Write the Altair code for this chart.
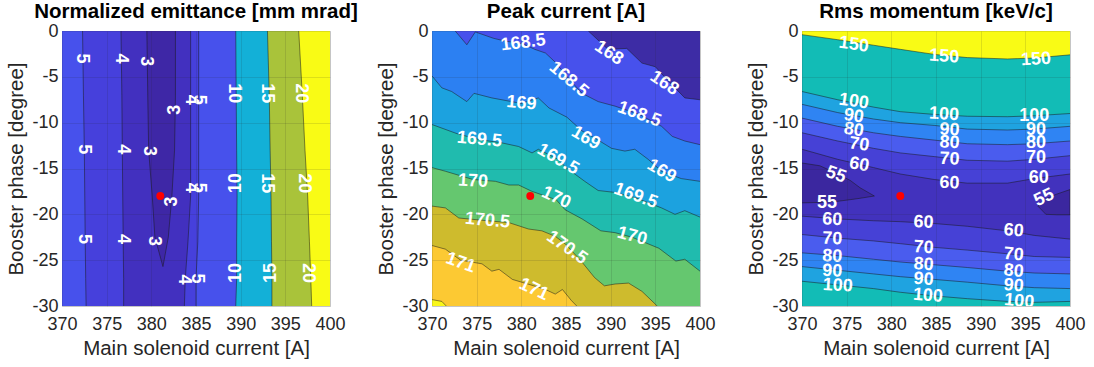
import altair as alt
import pandas as pd

# ---------------- axes ----------------
X_MIN, X_MAX = 370, 400
Y_MIN, Y_MAX = -30, 0
X_TICKS = [370, 375, 380, 385, 390, 395, 400]
Y_TICKS = [0, -5, -10, -15, -20, -25, -30]
OPT_X, OPT_Y = 381, -18
TITLES = ["Normalized emittance [mm mrad]", "Peak current [A]", "Rms momentum [keV/c]"]
X_TITLE = "Main solenoid current [A]"
Y_TITLE = "Booster phase [degree]"

# ---------------- panel 1: emittance (contours given as x at phase samples) ----------------
P1_Y = [0, -7, -13, -18, -23, -27, -30]
E5L = [372.3, 372.4, 372.5, 372.55, 372.6, 372.65, 372.7]
E4L = [376.6, 376.7, 376.75, 376.8, 376.85, 376.9, 376.9]
E4R = [384.4, 384.4, 384.4, 384.4, 384.1, 383.8, 383.7]
E5R = [385.3, 385.3, 385.3, 385.3, 385.2, 385.0, 385.0]
E10 = [389.45, 389.5, 389.55, 389.6, 389.55, 389.55, 389.45]
E15 = [393.0, 393.2, 393.3, 393.4, 393.45, 393.5, 393.5]
E20 = [396.5, 396.9, 397.2, 397.5, 397.7, 397.85, 397.95]
E3_Y = [0, -7, -13, -18, -22.5, -25.7]
E3L = [379.5, 379.6, 379.7, 380.1, 380.4, 381.3]
E3R = [382.7, 382.7, 382.6, 382.3, 381.9, 381.3]
P1_COL = {"lt3": "#3E27A6", "3-4": "#4230BF", "4-5": "#4640DC", "5-10": "#4751EC",
          "10-15": "#13B0D7", "15-20": "#A9C33A", "gt20": "#F9FB15"}
L1_T = ["5", "4", "3", "4", "5", "10", "15", "20", "3", "5", "4", "3", "4", "5", "10", "15", "20",
        "3", "5", "4", "3", "4", "5", "10", "15", "20"]
L1_X = [372.2, 376.6, 379.4, 384.4, 385.3, 389.3, 393.0, 396.8, 382.7, 372.5, 376.8, 379.7, 384.4,
        385.3, 389.5, 393.0, 397.1, 382.3, 372.5, 376.8, 380.3, 383.7, 385.1, 389.5, 393.4, 397.5]
L1_Y = [-3.0, -3.0, -3.3, -7.5, -7.5, -6.8, -6.8, -6.8, -8.6, -12.9, -12.9, -13.1, -17.1, -17.1,
        -16.6, -16.6, -16.6, -18.6, -22.7, -22.7, -22.9, -27.1, -27.0, -26.4, -26.4, -26.4]
L1_A = [90, 90, 90, 90, 90, 90, 90, 90, 270, 90, 90, 90, 90, 90, 270, 90, 90, 270, 90, 90, 90, 90,
        90, 270, 270, 90]

# ---------------- panel 2: peak current (contours as phase at current samples) ----------------
C168_X = [387.5, 389.7, 391.8, 393.5, 395.0, 396.5, 398.3, 400.0]
C168_Y = [0.0, -2.0, -1.9, -3.5, -3.9, -5.5, -7.3, -7.5]
C1685_X = [372.6, 373.9, 374.85, 376.9, 378.2, 380.2, 381.5, 382.7, 383.8, 385.3, 386.8, 388.6,
           390.5, 393.2, 395.7, 396.9, 398.3, 400.0]
C1685_Y = [0.0, -1.5, -0.1, -0.8, -1.1, -1.4, -2.0, -2.4, -3.4, -5.2, -6.8, -7.7, -8.2, -9.1,
           -10.4, -11.5, -12.0, -12.4]
C169_X = [370.0, 371.1, 372.2, 373.9, 374.7, 376.7, 380.0, 381.9, 383.1, 385.1, 386.8, 388.6,
          390.1, 391.6, 392.7, 394.2, 395.7, 397.9, 400.0]
C169_Y = [-4.9, -6.2, -6.6, -7.7, -6.8, -7.3, -7.9, -7.3, -8.4, -9.4, -10.9, -11.9, -12.8, -13.1,
          -12.9, -14.0, -15.3, -16.1, -16.4]
C1695_X = [370.0, 372.8, 375.3, 377.8, 379.7, 381.2, 381.9, 384.1, 385.0, 387.1, 388.6, 390.4,
           392.8, 395.7, 397.2, 398.3, 400.0]
C1695_Y = [-10.2, -11.2, -11.85, -12.2, -12.6, -13.3, -12.9, -14.0, -14.9, -16.4, -17.4, -17.6,
           -18.2, -19.3, -20.0, -19.6, -20.3]
C170_X = [370.0, 371.5, 374.6, 377.1, 378.6, 379.7, 381.2, 383.9, 384.9, 386.8, 388.9, 390.5,
          392.4, 395.4, 397.3, 398.3, 400.0]
C170_Y = [-14.9, -15.3, -16.2, -16.4, -16.8, -16.8, -17.5, -18.4, -19.5, -20.5, -21.8, -22.0,
          -22.5, -23.7, -25.1, -24.9, -26.2]
C1705_X = [370.0, 371.5, 373.0, 376.2, 378.6, 380.8, 382.3, 383.8, 384.9, 386.7, 388.2, 389.3,
           390.5, 392.0, 393.5, 395.0, 395.2]
C1705_Y = [-19.1, -19.3, -20.4, -20.7, -20.9, -21.6, -21.8, -22.4, -23.2, -25.1, -26.9, -27.8,
           -27.6, -27.5, -28.4, -29.8, -30.0]
C171_X = [370.0, 371.5, 373.2, 375.6, 376.7, 377.5, 379.0, 381.4, 382.7, 383.8, 384.6, 385.6, 386.2]
C171_Y = [-23.4, -23.8, -25.0, -25.4, -26.2, -26.0, -27.1, -27.8, -28.2, -28.7, -28.2, -29.4, -30.0]
C1715_X = [370.0, 371.1, 371.6]
C1715_Y = [-29.3, -29.5, -30.0]
P2_COL = ["#3D2CA5", "#4751EC", "#2C80F2", "#1CA2DF", "#20BBAE", "#65C76F", "#CEBB2D", "#FCC933",
          "#F9F71A"]
L2_T = ["168.5", "168", "168", "168.5", "168.5", "169", "169.5", "169", "169.5", "169", "169.5",
        "170", "170", "170.5", "170", "170.5", "171", "171"]
L2_X = [380.2, 389.8, 396.0, 385.3, 393.2, 380.0, 375.3, 387.2, 384.1, 395.7, 392.8, 374.6, 383.9,
        376.2, 392.4, 385.1, 373.2, 381.4]
L2_Y = [-1.3, -2.4, -5.7, -5.3, -9.1, -7.9, -11.85, -11.7, -14.0, -15.3, -18.0, -16.4, -18.2,
        -20.7, -22.4, -23.65, -25.3, -28.2]
L2_A = [353, 33, 33, 40, 20, 5, 5, 30, 30, 30, 20, 3, 25, 5, 15, 35, 20, 25]

# ---------------- panel 3: rms momentum (contours as phase at current samples) ----------------
P3_X = [370, 374, 378, 381, 384.8, 388.5, 393, 396, 400]
M150 = [-0.4, -0.95, -1.55, -2.0, -2.55, -2.9, -3.05, -2.95, -2.6]
M100U = [-6.6, -7.5, -8.3, -8.8, -9.1, -9.3, -9.35, -9.25, -9.0]
M90U = [-8.0, -8.9, -9.6, -10.0, -10.3, -10.7, -10.8, -10.7, -10.4]
M80U = [-9.5, -10.4, -11.1, -11.5, -11.9, -12.3, -12.4, -12.3, -12.0]
M70U = [-11.1, -12.0, -12.8, -13.3, -13.7, -14.1, -14.2, -14.0, -13.6]
M60U = [-12.9, -14.0, -14.9, -15.6, -16.2, -16.6, -16.6, -16.1, -15.6]
M60L = [-20.2, -20.5, -20.7, -20.8, -21.0, -21.3, -21.8, -22.3, -22.7]
M70L = [-22.2, -22.6, -22.9, -23.2, -23.6, -23.9, -24.3, -24.6, -24.7]
M80L = [-24.2, -24.5, -24.9, -25.2, -25.5, -25.8, -26.2, -26.4, -26.5]
M90L = [-25.7, -26.1, -26.5, -26.8, -27.1, -27.4, -27.8, -28.0, -28.1]
M100L = [-27.3, -27.7, -28.1, -28.5, -28.9, -29.2, -29.5, -29.6, -29.5]
M55A_X = [370, 372, 373.8, 375.4, 376.5, 378.1]
M55A_U = [-14.4, -14.7, -15.5, -16.3, -17.1, -18.0]
M55A_L = [-18.75, -18.7, -18.6, -18.4, -18.25, -18.0]
M55B_X = [396.4, 397.3, 398.5, 400]
M55B_U = [-19.1, -18.3, -17.8, -17.3]
M55B_L = [-19.1, -20.0, -20.05, -20.05]
P3_COL = {"lt55": "#3B279F", "55-60": "#4232BD", "60-70": "#4641D6", "70-80": "#4A5CEE",
          "80-90": "#2F84F3", "90-100": "#1FA3E0", "100-150": "#12BCB6", "gt150": "#F9FB15"}
L3_T = ["150", "150", "150", "100", "90", "80", "70", "60", "55", "55", "60", "70", "80", "90",
        "100", "100", "90", "80", "70", "60", "60", "70", "80", "90", "100", "100", "90", "80",
        "70", "60", "55", "60", "70", "80", "90", "100"]
L3_X = [375.8, 385.9, 396.2, 375.8, 375.8, 375.8, 376.4, 376.4, 373.8, 372.8, 373.4, 373.4, 373.4,
        373.4, 374.0, 385.9, 386.5, 386.5, 386.5, 386.5, 383.6, 383.6, 383.6, 383.6, 384.1, 396.0,
        396.2, 396.2, 396.2, 396.5, 397.1, 393.7, 393.7, 393.7, 393.7, 394.3]
L3_Y = [-1.5, -2.8, -3.1, -7.7, -9.3, -10.8, -12.4, -14.6, -15.7, -18.75, -20.6, -22.7, -24.6,
        -26.2, -27.8, -9.1, -10.8, -12.2, -14.0, -16.6, -20.9, -23.65, -25.5, -27.1, -28.9, -9.3,
        -10.8, -12.2, -13.85, -16.0, -18.2, -21.8, -24.4, -26.2, -27.8, -29.5]
L3_A = [8, 4, 357, 8, 8, 8, 8, 10, 20, 0, 3, 3, 3, 3, 3, 3, 3, 3, 3, 2, 3, 4, 4, 4, 4, 0, 0, 0, 0,
        0, 335, 5, 5, 5, 5, 5]

# ---------------- styling helpers ----------------
FONT = "Liberation Sans, Arial, Helvetica, sans-serif"
XSC = alt.Scale(domain=[X_MIN, X_MAX], nice=False, zero=False)
YSC = alt.Scale(domain=[Y_MIN, Y_MAX], nice=False, zero=False)
GRID = dict(grid=True, ticks=False, tickSize=0, domain=False, labelFontSize=18, titleFontSize=20.5,
            labelColor="#262626", titleColor="#262626", titleFontWeight="normal", labelFont=FONT,
            titleFont=FONT, gridColor="#262626", gridOpacity=0.13, zindex=1,
            labelOverlap=False, labelFlush=False, labelExpr="datum.value + ''")
XAX = alt.Axis(values=X_TICKS, title=X_TITLE, labelPadding=9, titlePadding=5, **GRID)
YAX = alt.Axis(values=Y_TICKS, title=Y_TITLE, labelPadding=4, titlePadding=5, **GRID)


def X(f):
    return alt.X(f, type="quantitative", scale=XSC, axis=XAX)


def Y(f):
    return alt.Y(f, type="quantitative", scale=YSC, axis=YAX)


def hband(ys, xa, xb, color):
    df = pd.DataFrame({"y": ys, "x": xa, "x2": xb})
    return alt.Chart(df).mark_area(orient="horizontal", color=color, clip=True).encode(
        y=Y("y"), x=X("x"), x2="x2")


def vband(xs, ya, yb, color):
    df = pd.DataFrame({"x": xs, "y": ya, "y2": yb})
    return alt.Chart(df).mark_area(orient="vertical", color=color, clip=True).encode(
        x=X("x"), y=Y("y"), y2="y2")


def cline(xs, ys):
    df = pd.DataFrame({"x": xs, "y": ys, "i": list(range(len(xs)))})
    return alt.Chart(df).mark_line(color="#1a1a1a", strokeWidth=0.6, opacity=0.85, clip=True).encode(
        x=X("x"), y=Y("y"), order="i:Q")


def labels(t, xs, ys, a):
    df = pd.DataFrame({"t": t, "x": xs, "y": ys, "a": a})
    return alt.Chart(df).mark_text(color="white", fontWeight="bold", fontSize=18, font=FONT,
                                   clip=True).encode(
        x=X("x"), y=Y("y"), text="t:N", angle=alt.Angle("a:Q", scale=None))


def dot():
    df = pd.DataFrame({"x": [OPT_X], "y": [OPT_Y]})
    return alt.Chart(df).mark_circle(color="#ff0000", size=62, opacity=1).encode(x=X("x"), y=Y("y"))


def panel(layers, title):
    return alt.layer(*layers).properties(
        width=268, height=275,
        title=alt.Title(title, fontSize=20.5, fontWeight="bold", color="black", font=FONT,
                        offset=0, anchor="middle", frame="group"))


# ---------------- panel 1 ----------------
full = [X_MAX] * len(P1_Y)
p1_layers = [
    hband([Y_MAX, Y_MIN], [X_MIN, X_MIN], [X_MAX, X_MAX], P1_COL["5-10"]),
    hband(P1_Y, E5L, E5R, P1_COL["4-5"]),
    hband(P1_Y, E4L, E4R, P1_COL["3-4"]),
    hband(E3_Y, E3L, E3R, P1_COL["lt3"]),
    hband(P1_Y, E10, full, P1_COL["10-15"]),
    hband(P1_Y, E15, full, P1_COL["15-20"]),
    hband(P1_Y, E20, full, P1_COL["gt20"]),
]
for c in [E5L, E4L, E4R, E5R, E10, E15, E20]:
    p1_layers.append(cline(c, P1_Y))
p1_layers.append(cline(E3L + E3R[::-1], E3_Y + E3_Y[::-1]))
p1_layers += [labels(L1_T, L1_X, L1_Y, L1_A), dot()]
p1 = panel(p1_layers, TITLES[0])

# ---------------- panel 2 ----------------
P2_LINES = [(C168_X, C168_Y), (C1685_X, C1685_Y), (C169_X, C169_Y), (C1695_X, C1695_Y),
            (C170_X, C170_Y), (C1705_X, C1705_Y), (C171_X, C171_Y), (C1715_X, C1715_Y)]
p2_layers = [vband([X_MIN, X_MAX], [Y_MAX, Y_MAX], [Y_MIN, Y_MIN], P2_COL[0])]
for k, (cx, cy) in enumerate(P2_LINES):
    ax, ay = list(cx), list(cy)
    if ax[0] > X_MIN:
        ax, ay = [X_MIN] + ax, [Y_MAX] + ay
    if ax[-1] < X_MAX:
        ax, ay = ax + [X_MAX], ay + [Y_MIN]
    p2_layers.append(vband(ax, ay, [Y_MIN] * len(ax), P2_COL[k + 1]))
for cx, cy in P2_LINES:
    p2_layers.append(cline(cx, cy))
p2_layers += [labels(L2_T, L2_X, L2_Y, L2_A), dot()]
p2 = panel(p2_layers, TITLES[1])

# ---------------- panel 3 ----------------
top = [Y_MAX] * len(P3_X)
p3_layers = [
    vband([X_MIN, X_MAX], [Y_MAX, Y_MAX], [Y_MIN, Y_MIN], P3_COL["100-150"]),
    vband(P3_X, top, M150, P3_COL["gt150"]),
    vband(P3_X, M100U, M100L, P3_COL["90-100"]),
    vband(P3_X, M90U, M90L, P3_COL["80-90"]),
    vband(P3_X, M80U, M80L, P3_COL["70-80"]),
    vband(P3_X, M70U, M70L, P3_COL["60-70"]),
    vband(P3_X, M60U, M60L, P3_COL["55-60"]),
    vband(M55A_X, M55A_U, M55A_L, P3_COL["lt55"]),
    vband(M55B_X, M55B_U, M55B_L, P3_COL["lt55"]),
]
for c in [M150, M100U, M90U, M80U, M70U, M60U, M60L, M70L, M80L, M90L, M100L]:
    p3_layers.append(cline(P3_X, c))
p3_layers.append(cline(M55A_X + M55A_X[::-1], M55A_U + M55A_L[::-1]))
p3_layers.append(cline(M55B_X + M55B_X[::-1], M55B_U + M55B_L[::-1]))
p3_layers += [labels(L3_T, L3_X, L3_Y, L3_A), dot()]
p3 = panel(p3_layers, TITLES[2])

chart = alt.hconcat(p1, p2, p3, spacing=102, bounds="flush").properties(
    padding={"left": 6, "top": 1, "right": 4, "bottom": 2}
).configure_view(stroke="#6e6e6e", strokeWidth=0.8).configure(font=FONT, background="white")

chart.save("out.html", embed_options={"renderer": "svg", "actions": False})
